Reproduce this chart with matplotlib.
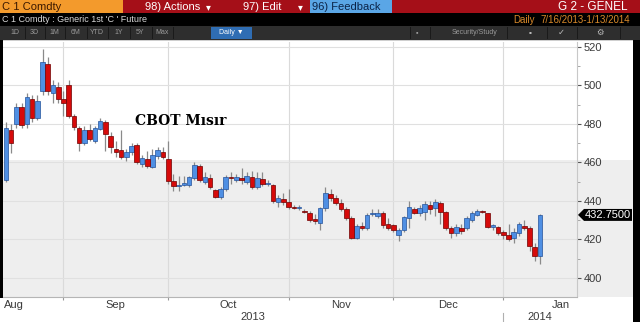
import numpy as np
import pandas as pd
import matplotlib
matplotlib.use('Agg')
import matplotlib.pyplot as plt
from matplotlib.patches import Rectangle, Polygon
from matplotlib import transforms

plt.rcParams['font.family'] = ['Liberation Sans', 'DejaVu Sans']

# trading days on the chart (exchange holidays removed)
holidays = ['2013-09-02', '2013-11-28', '2013-12-25', '2014-01-01']
dates = pd.bdate_range('2013-08-16', '2014-01-13', freq='C', holidays=holidays)

# daily OHLC
opens = [451, 477, 480, 489, 480, 493, 483, 497, 511, 496,
         499, 493, 500, 484, 478, 470, 477, 471, 477.5, 481,
         474, 467, 466.5, 463, 465.5, 469, 459, 462, 457.5, 463.5,
         465.5, 462, 450.5, 448, 448.5, 448.5, 452, 458, 450, 452,
         445.5, 442, 446, 452.5, 451, 452, 450, 452.5, 447, 451.5,
         449, 448.5, 439.5, 441, 439.5, 437, 436.5, 435, 434, 430.5,
         428.5, 436.5, 443.5, 441.5, 439, 436, 431, 421, 427, 426,
         433, 432, 434, 428, 427.5, 422.5, 425, 431, 436, 434,
         434.3, 437.9, 436.4, 439, 434.3, 426, 423.4, 426, 426, 430,
         432.7, 434.5, 433.8, 426.5, 426.5, 424, 422.3, 421, 423.4, 427,
         426, 416, 411.4]
highs = [481, 480, 491, 491, 496, 495, 495, 519, 515, 503,
         502, 497, 503, 485, 479, 479, 480, 479, 483, 482,
         476, 471, 477, 467, 470, 470, 464, 466, 467, 468,
         468, 471, 454, 453, 453, 453, 460, 459, 455, 454,
         446, 447, 453.5, 455, 454, 457, 455, 455.5, 455, 455,
         451, 449, 443, 444, 446, 438, 438, 436, 435, 433,
         437, 447, 446, 443, 441, 437, 432, 428, 429, 434,
         436, 436, 435, 431, 428, 426, 432, 440, 437, 438,
         440, 440, 441, 440, 435, 427, 428, 428, 432, 435,
         436, 435.5, 434, 428, 427, 425, 428, 426, 429, 430,
         427, 418, 433]
lows = [450, 465, 478, 478, 478, 481, 482, 495, 495, 491,
        491, 484, 483, 477, 466, 469, 471, 470, 477, 466,
        465, 463, 462, 461, 464, 459, 457.5, 457, 457, 462,
        462, 449, 445, 445, 448, 447, 451, 450, 449, 446,
        441.5, 441, 445, 449, 450, 449, 449, 446, 446, 448,
        448, 439, 437, 438, 436, 436, 435.5, 434, 429, 428,
        425, 435, 440, 438, 435, 430, 420, 420, 425, 425,
        432, 431, 426, 425, 424, 419, 424, 426, 433, 432,
        430, 433, 432, 428, 425, 421, 422, 423, 425, 429,
        432, 433.5, 426, 425, 422.5, 420, 419, 418, 422, 425,
        414, 409, 407]
closes = [478, 470, 489, 479.5, 494, 483, 492, 512, 497, 500,
          493, 491, 484, 478.5, 470, 477, 472, 478, 481.5, 475,
          468, 465.5, 463, 465.5, 468.5, 460, 462.5, 458, 464, 466.5,
          463, 450.5, 448, 448.5, 449.5, 452.5, 458.5, 451, 452.5, 447.5,
          442, 446, 452.5, 452, 452.5, 451, 453, 447, 452, 449,
          449.2, 440, 441.5, 439.5, 437, 436.5, 437, 434.5, 430, 429.5,
          436.5, 444, 441.5, 439, 436, 431, 421, 427, 426, 432.5,
          433.5, 434, 427.5, 426, 425, 425, 431.5, 437, 434, 436.5,
          438.4, 436, 439.5, 434.3, 426, 423.4, 426.5, 424.5, 431, 433.8,
          435, 434.3, 426.5, 427.5, 423.4, 422.3, 420.3, 424, 428, 426,
          416.6, 411.4, 432.75]

last_price = 432.75
title = 'CBOT M\u0131s\u0131r'
yticks = [400, 420, 440, 460, 480, 500, 520]
shade_top = 461.3

W, H = 640, 322
fig = plt.figure(figsize=(W / 100, H / 100), dpi=100)
fig.patch.set_facecolor('white')


def px_rect(x, y, w, h, color, z=1):
    r = Rectangle((x / W, 1 - (y + h) / H), w / W, h / H, transform=fig.transFigure,
                  facecolor=color, edgecolor='none', zorder=z)
    fig.patches.append(r)


def px_text(x, y, s, **kw):
    fig.text(x / W, 1 - y / H, s, va='center', **kw)


# plot area: x 3..577 px, y 42..297 px
ax = fig.add_axes([3 / W, (H - 297) / H, 574 / W, 255 / H])
ax.set_facecolor('none')
ax.set_zorder(2)

o = np.array(opens); hi = np.array(highs); lo = np.array(lows); c = np.array(closes)
n = len(o)
x = np.arange(n)
ax.set_xlim(-0.55, 109.07)
ax.set_ylim(390.1, 522.6)

# light grey band behind the lower part (also under the price scale)
bt = transforms.blended_transform_factory(fig.transFigure, ax.transData)
fig.patches.append(Rectangle((3 / W, 390.1), 630 / W, shade_top - 390.1, transform=bt,
                             facecolor='#eeeeee', edgecolor='none', zorder=-1))

# month boundaries
bounds = [i for i in range(1, n) if dates[i].month != dates[i - 1].month]
for b in bounds:
    ax.axvline(b, color='#dadada', lw=0.8, zorder=1)
for v in yticks:
    ax.axhline(v, color='#e0e0e0', lw=0.8, zorder=1)

# candles
up = c >= o
body = np.maximum(np.abs(c - o), 0.5)
ax.vlines(x, lo, hi, color='#8a8a8a', lw=0.9, zorder=3)
ax.bar(x[up], body[up], bottom=o[up], width=0.88, color='#4f8fe3',
       edgecolor='#23529a', lw=0.5, zorder=4)
ax.bar(x[~up], body[~up], bottom=c[~up], width=0.88, color='#d60a0a',
       edgecolor='#6e0000', lw=0.5, zorder=4)

# axes styling
for s in ['top', 'left']:
    ax.spines[s].set_visible(False)
ax.spines['bottom'].set_color('#b5b5b5')
ax.spines['right'].set_color('#c8c8c8')
ax.yaxis.tick_right()
ax.set_yticks(yticks)
ax.set_yticks(np.arange(410, 521, 20), minor=True)
ax.tick_params(axis='y', which='major', length=3, width=0.8, color='#555555',
               labelsize=8, labelcolor='#3a3a3a', pad=2)
ax.tick_params(axis='y', which='minor', length=2, width=0.6, color='#999999')
ax.set_xticks(bounds)
ax.set_xticklabels([])
ax.tick_params(axis='x', length=2, color='#999999')

# month / year labels under the axis
xt = ax.get_xaxis_transform()
months = [dates[0].strftime('%b')] + [dates[b].strftime('%b') for b in bounds]
centers = [(bounds[k - 1] + bounds[k]) / 2 for k in range(1, len(bounds))]
centers = centers + [bounds[-1] + 11]
ax.text(-0.3, -8 / 255, months[0], transform=xt, ha='left', va='center',
        fontsize=8, color='#3a3a3a')
for m, cx in zip(months[1:], centers):
    ax.text(cx, -8 / 255, m, transform=xt, ha='center', va='center',
            fontsize=8, color='#3a3a3a')
xl = ax.get_xlim()
ax.text((xl[0] + bounds[-1]) / 2, -20 / 255, str(dates[0].year), transform=xt,
        ha='center', va='center', fontsize=8, color='#3a3a3a')
ax.text((bounds[-1] + xl[1]) / 2, -20 / 255, str(dates[-1].year), transform=xt,
        ha='center', va='center', fontsize=8, color='#3a3a3a')
ax.plot([bounds[-1], bounds[-1]], [-16 / 255, -25 / 255], transform=xt,
        color='#b0b0b0', lw=0.8, clip_on=False)

# chart title
ax.text(132 / 574 * (xl[1] - xl[0]) + xl[0], 481.5, title, fontsize=10,
        fontweight='bold', family='DejaVu Serif', va='center', ha='left', zorder=5)

# last price tag
hh = 3.1
tag = Polygon([(578 / W, last_price), (584 / W, last_price + hh), (632 / W, last_price + hh),
               (632 / W, last_price - hh), (584 / W, last_price - hh)],
              closed=True, transform=bt, facecolor='black', edgecolor='none', zorder=5)
fig.patches.append(tag)
fig.text(608 / W, last_price, '%.4f' % last_price, transform=bt, color='white',
         fontsize=8, ha='center', va='center', zorder=6)

# frame
px_rect(0, 40, 3, 258, 'black')
px_rect(633, 40, 7, 282, 'black')
px_rect(3, 40, 630, 1, '#cfcfcf')

# header row 1
px_rect(0, 0, 640, 13, '#a50f18')
px_rect(0, 0, 123, 13, '#f39a2c')
px_rect(310, 0, 82, 13, '#5aa6e6')
px_text(2, 7, 'C 1 Comdty', fontsize=8, color='#3a1800')
px_text(145, 7, '98) Actions', fontsize=8, color='white')
px_text(206, 7, '\u25be', fontsize=7, color='white')
px_text(243, 7, '97) Edit', fontsize=8, color='white')
px_text(298, 7, '\u25be', fontsize=7, color='white')
px_text(312, 7, '96) Feedback', fontsize=8, color='#0b2347')
px_text(558, 7, 'G 2 - GENEL', fontsize=8.5, color='white')

# header row 2
px_rect(0, 13, 640, 13, 'black')
px_text(2, 20, "C 1 Comdty : Generic 1st 'C ' Future", fontsize=6.5, color='#d8d8d8')
px_text(513, 20, 'Daily', fontsize=7, color='#d98a2a')
px_text(540, 20, '7/16/2013-1/13/2014', fontsize=7, color='#d98a2a')

# header row 3 (toolbar)
px_rect(0, 26, 640, 14, '#2e2e2e')
btns = ['1D', '3D', '1M', '6M', 'YTD', '1Y', '5Y', 'Max']
btn_x = [15, 34, 54, 76, 97, 119, 140, 162]
for s, bx in zip(btns, btn_x):
    px_text(bx, 33, s, fontsize=5, color='#9a9a9a', ha='center')
for sx in [25, 45, 65, 87, 108, 130, 152, 173, 410, 430, 507, 547, 577, 620]:
    px_rect(sx, 27, 1, 12, '#1a1a1a')
px_rect(211, 27, 41, 12, '#2f6db3')
px_text(231, 33, 'Daily \u25bc', fontsize=5, color='white', ha='center')
px_text(417, 33, '\u25aa', fontsize=5, color='#9a9a9a', ha='center')
px_text(452, 33, 'Security/Study', fontsize=5, color='#9a9a9a')
px_text(530, 33, '\u25aa', fontsize=6, color='#bbbbbb', ha='center')
px_text(561, 33, '\u2713', fontsize=6, color='#bbbbbb', ha='center')
px_text(600, 33, '\u2699', fontsize=6, color='#bbbbbb', ha='center')

fig.savefig('out.png', dpi=100)
